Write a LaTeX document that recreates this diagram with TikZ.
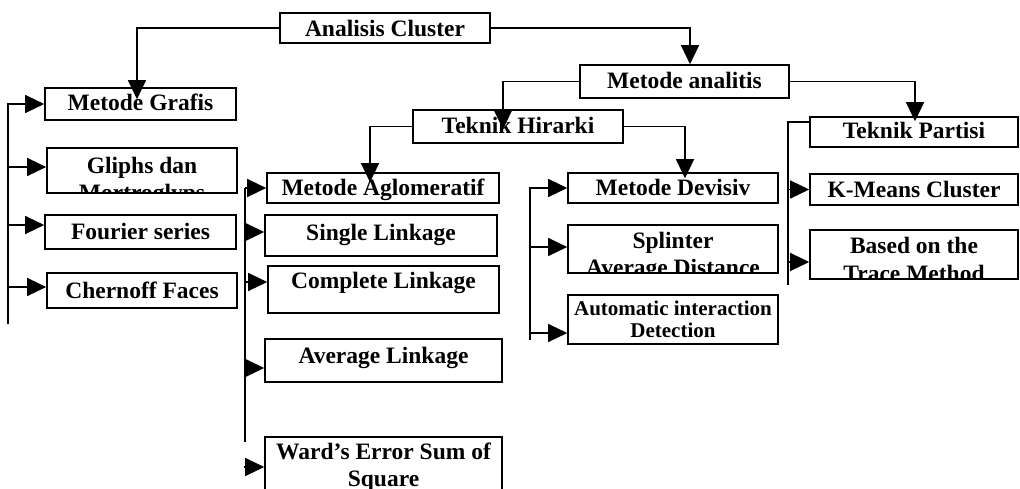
\documentclass[tikz,border=0pt]{standalone}
\usepackage{fontspec}
\setmainfont{Liberation Serif}
\usetikzlibrary{arrows.meta}
\begin{document}
\begin{tikzpicture}[x=1pt,y=-1pt,
  box/.style={draw, line width=1.6pt, inner sep=0pt, font=\fontsize{23.5}{27}\selectfont\bfseries},
  sbox/.style={box, text height=16pt, text depth=#1},
  tx/.style={inner sep=0pt, anchor=base, font=\fontsize{23.5}{27}\selectfont\bfseries},
  ln/.style={line width=1.3pt},
  arr/.style={line width=1.3pt, -{Triangle[length=19pt,width=18pt]}},
]
\clip (0,0) rectangle (1020,488);
\fill[white] (0,0) rectangle (1020,488);

% boxes
\node[sbox=0pt, minimum width=210pt, minimum height=30pt] (ac) at (385,28) {Analisis Cluster};
\node[sbox=3pt, minimum width=209pt, minimum height=33pt] (ma) at (684.5,81.5) {Metode analitis};
\node[sbox=4pt, minimum width=191pt, minimum height=32pt] (mg) at (140.5,104) {Metode Grafis};
\node[box, minimum width=190pt, minimum height=45pt,
  path picture={
    \node[tx] (gl1) at ([yshift=-25pt]path picture bounding box.north) {Gliphs dan};
    \node[tx] (gl2) at ([yshift=-52pt]path picture bounding box.north) {Mortroglyps};
  }] (gl) at (142,170.5) {};
\node[sbox=2pt, minimum width=191pt, minimum height=34pt] (fs) at (140.5,232) {Fourier series};
\node[sbox=1pt, minimum width=190pt, minimum height=35pt] (cf) at (142,290.5) {Chernoff Faces};
\node[sbox=3pt, minimum width=210pt, minimum height=33pt] (th) at (518,126.5) {Teknik Hirarki};
\node[sbox=4pt, minimum width=208pt, minimum height=30pt] (tp) at (914,132) {Teknik Partisi};
\node[sbox=2pt, minimum width=232pt, minimum height=30pt] (agl) at (383,188) {Metode Aglomeratif};
\node[sbox=7pt, minimum width=232pt, minimum height=41pt] (sl) at (381,235.5) {Single Linkage};
\node[sbox=19pt, minimum width=231pt, minimum height=47pt] (cl) at (383.5,289.5) {Complete Linkage};
\node[sbox=11pt, minimum width=237pt, minimum height=43pt] (al) at (383.5,360.5) {Average Linkage};
\node[box, align=center, minimum width=237pt, minimum height=60pt] (wd) at (383.5,467) {Ward’s Error Sum of\\Square};
\node[sbox=2pt, minimum width=210pt, minimum height=30pt] (md) at (673,188) {Metode Devisiv};
\node[box, minimum width=210pt, minimum height=48pt,
  path picture={
    \node[tx] (sp1) at ([yshift=-23pt]path picture bounding box.north) {Splinter};
    \node[tx] (sp2) at ([yshift=-50pt]path picture bounding box.north) {Average Distance};
  }] (sp) at (673,249) {};
\node[box, align=center, font=\fontsize{21}{22}\selectfont\bfseries, minimum width=210pt, minimum height=49pt] (aid) at (673,319.5) {Automatic interaction\\Detection};
\node[sbox=0pt, minimum width=208pt, minimum height=31pt] (km) at (914,189.5) {K-Means Cluster};
\node[box, minimum width=208pt, minimum height=49pt,
  path picture={
    \node[tx] (bt1) at ([yshift=-23pt]path picture bounding box.north) {Based on the};
    \node[tx] (bt2) at ([yshift=-51pt]path picture bounding box.north) {Trace Method};
  }] (bt) at (914,254.5) {};

% top-level connectors
\draw[arr, shorten >=-12pt] (ac.west) -| ([xshift=-3.5pt]mg.north);
\draw[arr] (ac.east) -| ([xshift=5.5pt]ma.north);
\draw[arr, shorten >=-20pt] (ma.west) -| ([xshift=-15pt]th.north);
\draw[arr, shorten >=-5pt] (ma.east) -| ([xshift=1pt]tp.north);
\draw[arr, shorten >=-10pt] (th.west) -| ([xshift=-13pt]agl.north);
\draw[arr, shorten >=-6pt] (th.east) -| ([xshift=12pt]md.north);

% left bus (Metode Grafis)
\coordinate (lb2) at (8,324);
\draw[arr] (lb2) |- (mg.west);
\coordinate (gla) at ([yshift=3.5pt]gl.west);
\coordinate (fsa) at ([yshift=7pt]fs.west);
\coordinate (cfa) at ([yshift=3.5pt]cf.west);
\draw[arr] (gla -| lb2) -- (gla);
\draw[arr] (fsa -| lb2) -- (fsa);
\draw[arr] (cfa -| lb2) -- (cfa);

% Aglomeratif bus
\coordinate (ab1) at (245,188);
\coordinate (ab2) at (245,442);
\draw[ln] (ab1) -- (ab2);
\coordinate (sla) at ([yshift=3.5pt]sl.west);
\coordinate (cla) at ([yshift=7.5pt]cl.west);
\coordinate (ala) at ([yshift=-7.5pt]al.west);
\draw[arr] (agl.west -| ab1) -- (agl.west);
\draw[arr] (sla -| ab1) -- (sla);
\draw[arr] (cla -| ab1) -- (cla);
\draw[arr] (ala -| ab1) -- (ala);
\draw[arr] ([xshift=-20pt]wd.west) -- (wd.west);

% Devisiv bus
\coordinate (db2) at (530,340);
\draw[arr] (db2) |- (md.west);
\coordinate (spa) at ([yshift=2pt]sp.west);
\coordinate (aida) at ([yshift=-13.5pt]aid.west);
\draw[arr] (spa -| db2) -- (spa);
\draw[arr] (aida -| db2) -- (aida);

% Partisi bus
\coordinate (pb1) at (788,122);
\coordinate (pb2) at (788,285);
\draw[ln] ([yshift=10pt]tp.west) -- (pb1) -- (pb2);
\draw[arr] (km.west -| pb1) -- (km.west);
\coordinate (bta) at ([yshift=-7.5pt]bt.west);
\draw[arr] (bta -| pb1) -- (bta);
\end{tikzpicture}
\end{document}
